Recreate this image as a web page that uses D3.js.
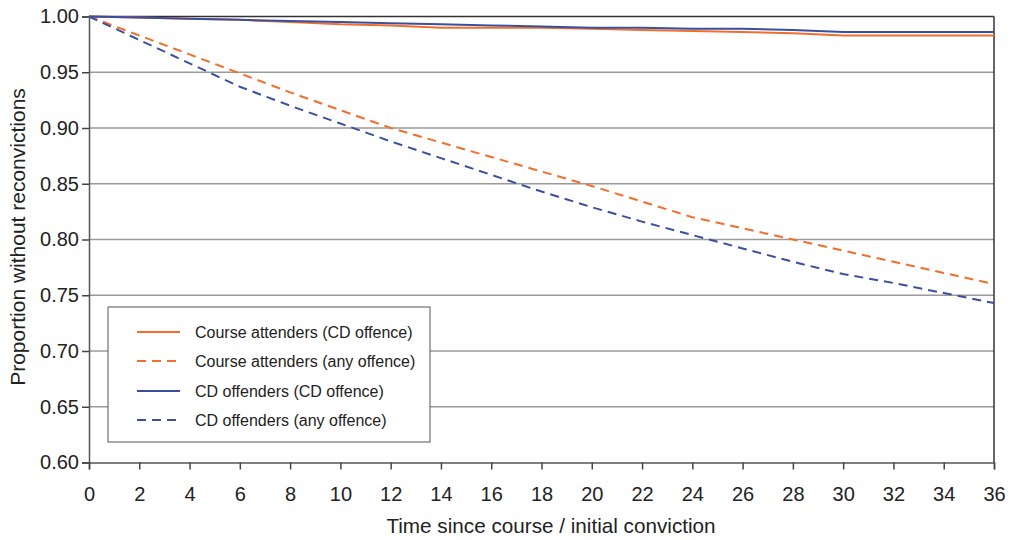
<!DOCTYPE html>
<html>
<head>
<meta charset="utf-8">
<script src="https://cdn.jsdelivr.net/npm/d3@7"></script>
<style>
  body { margin: 0; background: #fff; }
  svg { font-family: "Liberation Sans", Arial, sans-serif; }
</style>
</head>
<body>
<div id="chart"></div>
<script>
const months = [0, 2, 4, 6, 8, 10, 12, 14, 16, 18, 20, 22, 24, 26, 28, 30, 32, 34, 36];

const attendersCD = [1.000, 0.999, 0.998, 0.997, 0.995, 0.993, 0.992, 0.990, 0.990, 0.990, 0.989, 0.988, 0.987, 0.986, 0.985, 0.983, 0.983, 0.983, 0.983];
const attendersAny = [1.000, 0.983, 0.966, 0.949, 0.932, 0.916, 0.900, 0.887, 0.874, 0.861, 0.848, 0.834, 0.820, 0.810, 0.800, 0.790, 0.780, 0.770, 0.760];
const offendersCD = [1.000, 0.999, 0.998, 0.997, 0.996, 0.995, 0.994, 0.993, 0.992, 0.991, 0.990, 0.990, 0.989, 0.989, 0.988, 0.986, 0.986, 0.986, 0.986];
const offendersAny = [1.000, 0.979, 0.958, 0.937, 0.920, 0.904, 0.888, 0.873, 0.858, 0.843, 0.829, 0.816, 0.804, 0.792, 0.780, 0.769, 0.761, 0.752, 0.743];

const yTicks = [0.60, 0.65, 0.70, 0.75, 0.80, 0.85, 0.90, 0.95, 1.00];
const xTicks = d3.range(0, 37, 2);

const orange = "#f36e2c";
const blue = "#3a4f9f";

const series = [
  { name: "Course attenders (CD offence)", values: attendersCD, color: orange, dash: null },
  { name: "Course attenders (any offence)", values: attendersAny, color: orange, dash: "9,6" },
  { name: "CD offenders (CD offence)", values: offendersCD, color: blue, dash: null },
  { name: "CD offenders (any offence)", values: offendersAny, color: blue, dash: "9,6" }
];

const width = 1011, height = 540;
const margin = { top: 16.5, right: 17, bottom: 77.5, left: 89 };

const svg = d3.select("#chart").append("svg")
  .attr("width", width)
  .attr("height", height);

const x = d3.scaleLinear().domain([0, 36]).range([margin.left, width - margin.right]);
const y = d3.scaleLinear().domain([0.60, 1.00]).range([height - margin.bottom, margin.top]);

// gridlines
svg.append("g")
  .selectAll("line")
  .data(yTicks.slice(1, -1))
  .join("line")
  .attr("x1", x(0)).attr("x2", x(36))
  .attr("y1", d => y(d)).attr("y2", d => y(d))
  .attr("stroke", "#9a9a9a")
  .attr("stroke-width", 1.5);

// frame top and right
svg.append("line")
  .attr("x1", x(0)).attr("x2", x(36))
  .attr("y1", y(1)).attr("y2", y(1))
  .attr("stroke", "#333").attr("stroke-width", 1.5);
svg.append("line")
  .attr("x1", x(36)).attr("x2", x(36))
  .attr("y1", y(1)).attr("y2", y(0.6))
  .attr("stroke", "#333").attr("stroke-width", 1.5);

// axes
const yAxis = svg.append("g")
  .attr("transform", `translate(${x(0)},0)`)
  .call(d3.axisLeft(y).tickValues(yTicks).tickFormat(d3.format(".2f")).tickSize(7).tickPadding(3));

const xAxis = svg.append("g")
  .attr("transform", `translate(0,${y(0.6)})`)
  .call(d3.axisBottom(x).tickValues(xTicks).tickSize(7).tickPadding(17));

[yAxis, xAxis].forEach(g => {
  g.select(".domain").attr("stroke", "#555").attr("stroke-width", 1.5);
  g.selectAll(".tick line").attr("stroke", "#444").attr("stroke-width", 1.5);
  g.selectAll(".tick text").attr("fill", "#222").style("font-size", "20px").style("font-family", "'Liberation Sans', Arial, sans-serif");
});

// lines
const line = d3.line()
  .x((d, i) => x(months[i]))
  .y(d => y(d));

svg.append("g")
  .selectAll("path")
  .data(series)
  .join("path")
  .attr("fill", "none")
  .attr("stroke", d => d.color)
  .attr("stroke-width", 2)
  .attr("stroke-dasharray", d => d.dash)
  .attr("d", d => line(d.values));

// legend
const legend = svg.append("g").attr("transform", "translate(108,307)");
legend.append("rect")
  .attr("width", 322).attr("height", 135)
  .attr("fill", "#fff")
  .attr("stroke", "#555").attr("stroke-width", 1);

const rowY = [25, 54, 84, 113];
series.forEach((s, i) => {
  legend.append("line")
    .attr("x1", 29).attr("x2", 72)
    .attr("y1", rowY[i]).attr("y2", rowY[i])
    .attr("stroke", s.color).attr("stroke-width", 2)
    .attr("stroke-dasharray", s.dash);
  legend.append("text")
    .attr("x", 87).attr("y", rowY[i] + 6)
    .attr("fill", "#222")
    .style("font-size", "16px")
    .text(s.name);
});

// axis titles
svg.append("text")
  .attr("x", 551)
  .attr("y", 533)
  .attr("text-anchor", "middle")
  .attr("fill", "#222")
  .style("font-size", "20.7px")
  .text("Time since course / initial conviction");

svg.append("text")
  .attr("transform", "translate(25,237) rotate(-90)")
  .attr("text-anchor", "middle")
  .attr("fill", "#222")
  .style("font-size", "21px")
  .text("Proportion without reconvictions");
</script>
</body>
</html>
